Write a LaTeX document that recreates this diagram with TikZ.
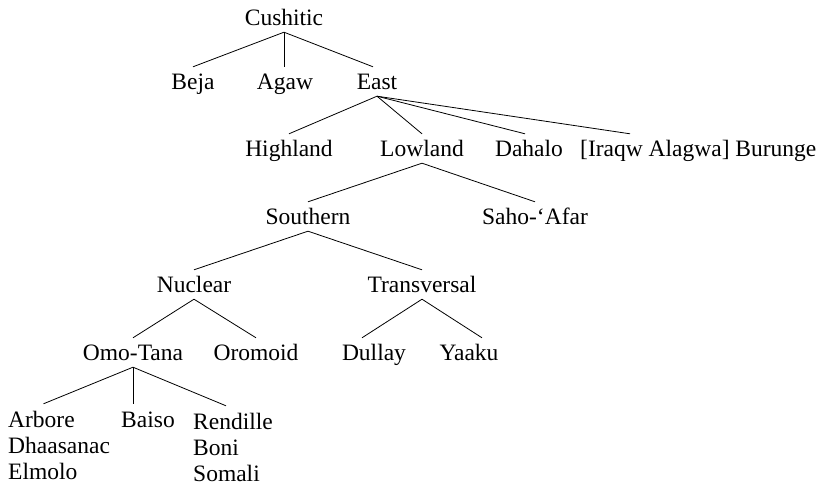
\documentclass[tikz,border=0pt]{standalone}
\usepackage{fontspec}
\setmainfont{Liberation Serif}
\begin{document}
\begin{tikzpicture}[x=1pt,y=-1pt,
  lang/.style={font=\fontsize{23.5}{26}\selectfont, inner xsep=0pt, inner ysep=6pt,
    text height=17pt, text depth=0pt, anchor=base},
  langw/.style={lang, anchor=base west},
  edge/.style={line width=0.8pt}]
\useasboundingbox (0,0) rectangle (817,486);
% row 1
\node[lang] (cushitic) at (284,26) {Cushitic};
% row 2
\node[lang] (beja) at (193,90) {Beja};
\node[lang] (agaw) at (285,90) {Agaw};
\node[lang] (east) at (377,90) {East};
% row 3
\node[lang] (highland) at (289,157) {Highland};
\node[lang] (lowland) at (422,157) {Lowland};
\node[lang] (dahalo) at (529,157) {Dahalo};
\node[langw] (burunge) at (580,157) {[Iraqw Alagwa] Burunge};
% row 4
\node[lang] (southern) at (308,225) {Southern};
\node[lang] (saho) at (535,225) {Saho-‘Afar};
% row 5
\node[lang] (nuclear) at (194,293) {Nuclear};
\node[lang] (transversal) at (422,293) {Transversal};
% row 6
\node[lang] (omotana) at (133,361) {Omo-Tana};
\node[lang] (oromoid) at (256,361) {Oromoid};
\node[lang] (dullay) at (374,361) {Dullay};
\node[lang] (yaaku) at (469,361) {Yaaku};
% row 7-9
\node[langw] (arbore) at (8,427) {Arbore};
\node[langw] (dhaasanac) at (8,453) {Dhaasanac};
\node[langw] (elmolo) at (8,479) {Elmolo};
\node[lang] (baiso) at (148,427) {Baiso};
\node[langw] (rendille) at (193,429) {Rendille};
\node[langw] (boni) at (193,455) {Boni};
\node[langw] (somali) at (193,481) {Somali};
% connectors
\draw[edge] (cushitic.south) -- (beja.north);
\draw[edge] (cushitic.south) -- (cushitic.south |- agaw.north);
\draw[edge] (cushitic.south) -- ([xshift=-4pt]east.north);
\draw[edge] (east.south) -- (highland.north);
\draw[edge] (east.south) -- (lowland.north);
\draw[edge] (east.south) -- ([xshift=-4pt]dahalo.north);
\draw[edge] (east.south) -- ([xshift=50pt]burunge.north west);
\draw[edge] (lowland.south) -- (southern.north);
\draw[edge] (lowland.south) -- (saho.north);
\draw[edge] (southern.south) -- (nuclear.north);
\draw[edge] (southern.south) -- (transversal.north);
\draw[edge] (nuclear.south) -- (omotana.north);
\draw[edge] (nuclear.south) -- (oromoid.north);
\draw[edge] (transversal.south) -- ([xshift=-12pt]dullay.north);
\draw[edge] (transversal.south) -- ([xshift=13pt]yaaku.north);
\draw[edge] (omotana.south) -- ([xshift=2pt]arbore.north);
\draw[edge] (omotana.south) -- (omotana.south |- baiso.north);
\draw[edge] (omotana.south) -- ([xshift=-7pt]rendille.north);
\end{tikzpicture}
\end{document}
